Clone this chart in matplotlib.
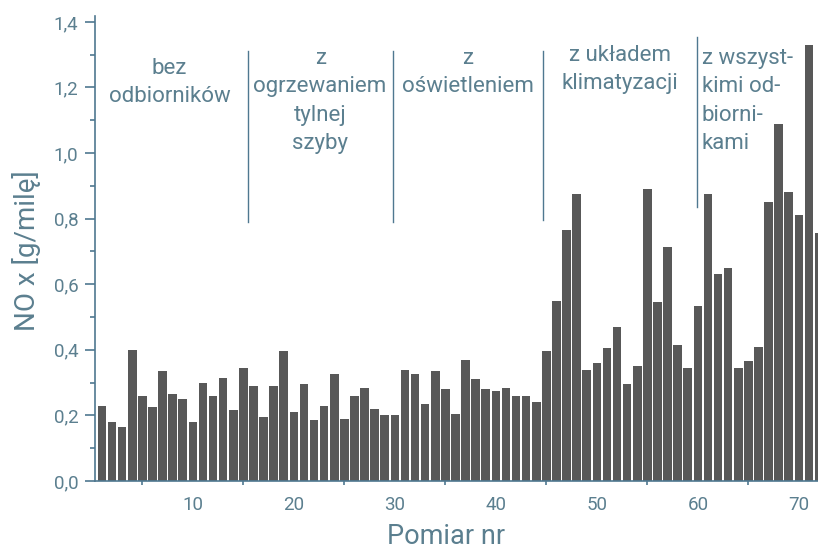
import matplotlib
matplotlib.use('Agg')
import matplotlib.pyplot as plt
import numpy as np
from matplotlib.ticker import FixedLocator, FuncFormatter

plt.rcParams['font.family'] = ['Roboto', 'DejaVu Sans']

# NOx per measurement, g/mile
pomiar = np.arange(1, 73)
nox = [0.23, 0.18, 0.165, 0.40, 0.26, 0.225, 0.335, 0.265, 0.25, 0.18,
       0.30, 0.26, 0.315, 0.215, 0.345, 0.29, 0.195, 0.29, 0.395, 0.21,
       0.295, 0.185, 0.23, 0.325, 0.19, 0.26, 0.285, 0.22, 0.20, 0.20,
       0.34, 0.325, 0.235, 0.335, 0.28, 0.205, 0.37, 0.31, 0.28, 0.275,
       0.285, 0.26, 0.26, 0.24, 0.395, 0.55, 0.765, 0.875, 0.34, 0.36,
       0.405, 0.47, 0.295, 0.35, 0.89, 0.545, 0.715, 0.415, 0.345, 0.535,
       0.875, 0.63, 0.65, 0.345, 0.365, 0.41, 0.85, 1.09, 0.88, 0.81,
       1.33, 0.755]

# group labels
grupy = ["bez\nodbiorników",
         "z\nogrzewaniem\ntylnej\nszyby",
         "z\noświetleniem",
         "z układem\nklimatyzacji",
         "z wszyst-\nkimi od-\nbiorni-\nkami"]
grupy_x = [7.7, 22.6, 37.2, 52.3, 60.4]
grupy_y = [1.29, 1.32, 1.32, 1.33, 1.32]
grupy_ha = ['center', 'center', 'center', 'center', 'left']

# separator lines
sep_x = [15.5, 29.8, 44.7, 59.9]
sep_y0 = [0.79, 0.79, 0.795, 0.835]
sep_y1 = [1.31, 1.31, 1.31, 1.355]

blue = '#4f7890'
txt = '#5b7f8f'

fig = plt.figure(figsize=(8.18, 5.51), dpi=100)
ax = fig.add_axes([95/818, 70/551, 723/818, 465/551])

ax.bar(pomiar, nox, width=0.85, color='#585858', edgecolor='none', zorder=2)

ax.set_xlim(0.31, 71.9)
ax.set_ylim(0, 1.418)

for s in ['top', 'right']:
    ax.spines[s].set_visible(False)
for s in ['left', 'bottom']:
    ax.spines[s].set_color(blue)
    ax.spines[s].set_linewidth(1.2)

ax.yaxis.set_major_locator(FixedLocator(np.arange(0, 1.41, 0.2)))
ax.yaxis.set_minor_locator(FixedLocator(np.arange(0.1, 1.4, 0.2)))
ax.yaxis.set_major_formatter(FuncFormatter(lambda v, p: ('%.1f' % v).replace('.', ',')))
ax.tick_params(axis='y', which='major', length=7, width=1.2, color=blue,
               labelsize=13.5, labelcolor=txt, pad=5)
ax.tick_params(axis='y', which='minor', length=3.5, width=1.2, color=blue)

ax.xaxis.set_major_locator(FixedLocator(range(10, 71, 10)))
ax.xaxis.set_minor_locator(FixedLocator(range(5, 70, 10)))
ax.tick_params(axis='x', which='major', length=0, labelsize=13.5,
               labelcolor=txt, pad=11)
ax.tick_params(axis='x', which='minor', length=3, width=1.2, color=blue)

for x, y, t, ha in zip(grupy_x, grupy_y, grupy, grupy_ha):
    ax.text(x, y, t, ha=ha, va='top', fontsize=16, color=txt,
            linespacing=1.45, multialignment=ha)

for x, y0, y1 in zip(sep_x, sep_y0, sep_y1):
    ax.plot([x, x], [y0, y1], color=blue, linewidth=1.0, zorder=3)

fig.text(446/818, 1 - 537/551, "Pomiar nr", ha='center', va='center',
         fontsize=19.5, color=txt)
fig.text(27/818, 1 - 251/551, "NO x [g/milę]", ha='center', va='center',
         rotation=90, fontsize=20, color=txt)

fig.savefig('out.png', dpi=100)
